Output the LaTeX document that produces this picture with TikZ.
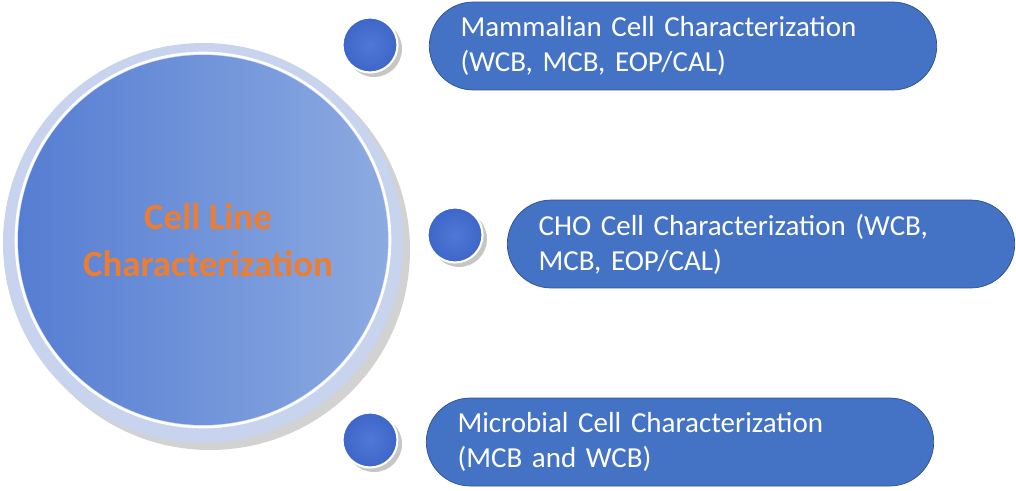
\documentclass[tikz,border=0pt]{standalone}
\usepackage{fontspec}
\setmainfont{Carlito}
\definecolor{boxblue}{RGB}{68,114,196}
\definecolor{boxedge}{RGB}{47,82,143}
\definecolor{ringblue}{RGB}{200,212,238}
\definecolor{bigleft}{RGB}{85,125,210}
\definecolor{bigright}{RGB}{140,170,225}
\definecolor{dotin}{RGB}{80,120,215}
\definecolor{dotout}{RGB}{62,102,200}
\definecolor{titleorange}{RGB}{237,125,49}
\tikzset{
  dot/.style={circle, minimum size=1.1cm, draw=white, line width=1.2pt,
    inner color=dotin, outer color=dotout},
  itembox/.style={rounded corners=0.88cm, minimum width=10.15cm, minimum height=1.76cm, fill=boxblue,
    draw=boxedge, text=white, align=left, text width=8.9cm, font=\fontsize{16.5}{20}\selectfont},
}
\begin{document}
\begin{tikzpicture}[x=0.02cm,y=-0.02cm]
  \useasboundingbox (0,0) rectangle (1016,490);
  % big circle
  \fill[gray!35] (210,250) circle (200);
  \fill[ringblue] (203,243) circle (200);
  \draw[white, line width=1.5pt] (203,240) circle (187);
  \shade[left color=bigleft, right color=bigright] (203,240) circle (185);
  \node[font=\bfseries\fontsize{21}{27}\selectfont, text=titleorange, align=center] (main) at (208,240) {Cell Line\\Characterization};
  % small dots
  \foreach \x/\y/\n in {370/45/d1, 455/235/d2, 370/440/d3}{
    \fill[gray!45] (\x+4,\y+4) circle (28);
    \node[dot] (\n) at (\x,\y) {};
  }
  % boxes
  \node[itembox] (mam) at (683,46) {Mammalian Cell Characterization\\(WCB, MCB, EOP/CAL)};
  \node[itembox] (cho) at (761,244) {CHO Cell Characterization (WCB,\\MCB, EOP/CAL)};
  \node[itembox] (mic) at (680,442) {Microbial Cell Characterization\\(MCB and WCB)};
\end{tikzpicture}
\end{document}
